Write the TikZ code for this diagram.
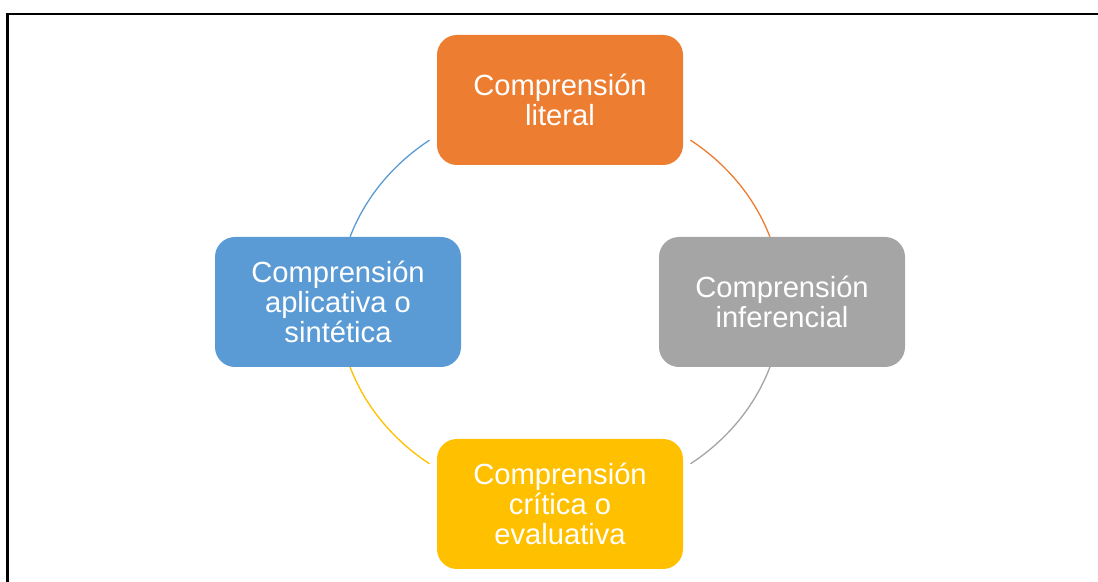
\documentclass[tikz,border=0pt]{standalone}
\usepackage{fontspec}
\setmainfont{Liberation Sans}
\definecolor{litcol}{HTML}{ED7D31}
\definecolor{infcol}{HTML}{A5A5A5}
\definecolor{critcol}{HTML}{FFC000}
\definecolor{aplcol}{HTML}{5B9BD5}
\tikzset{
    levelbox/.style={rounded corners=0.4cm, minimum width=4.92cm, minimum height=2.6cm,
        text=white, align=center, inner sep=0pt,
        font=\fontsize{16.6}{17.2}\selectfont},
    ring/.style={line width=0.75pt}
}
\begin{document}
\begin{tikzpicture}
    \useasboundingbox (0,0) rectangle (21.96,11.64);
    \draw[line width=1.2pt] (0.15,0) -- (0.15,11.36) -- (21.96,11.36);

    \coordinate (c) at (11.2,5.6);

    \draw[ring, litcol] (c) ++(54:4.44cm and 4.0cm)
        arc[start angle=54, end angle=19, x radius=4.44cm, y radius=4.0cm];
    \draw[ring, infcol] (c) ++(-19:4.44cm and 4.0cm)
        arc[start angle=-19, end angle=-54, x radius=4.44cm, y radius=4.0cm];
    \draw[ring, critcol] (c) ++(234:4.44cm and 4.0cm)
        arc[start angle=234, end angle=199, x radius=4.44cm, y radius=4.0cm];
    \draw[ring, aplcol] (c) ++(161:4.44cm and 4.0cm)
        arc[start angle=161, end angle=126, x radius=4.44cm, y radius=4.0cm];

    \node[levelbox, fill=litcol] (literal) at (11.2,9.64) {Comprensión\\literal};
    \node[levelbox, fill=infcol] (inferencial) at (15.64,5.6) {Comprensión\\inferencial};
    \node[levelbox, fill=critcol] (critica) at (11.2,1.56) {Comprensión\\crítica o\\evaluativa};
    \node[levelbox, fill=aplcol] (aplicativa) at (6.76,5.6) {Comprensión\\aplicativa o\\sintética};

\end{tikzpicture}
\end{document}
